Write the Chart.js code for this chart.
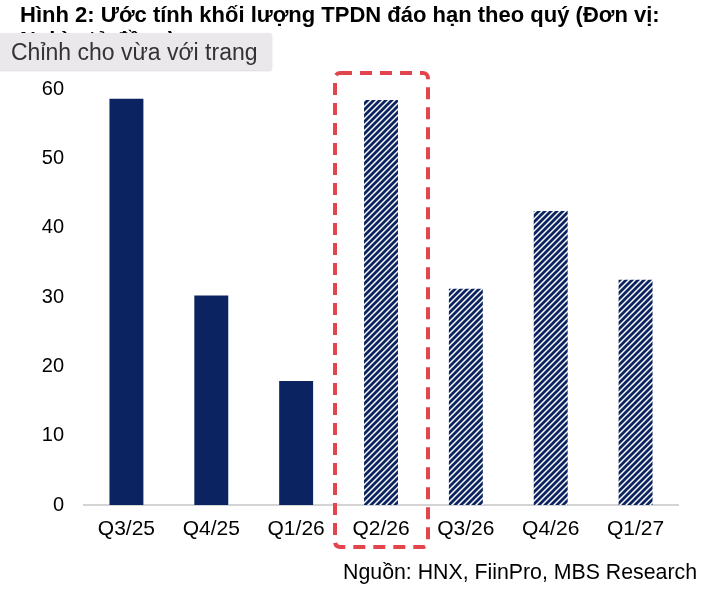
<!DOCTYPE html>
<html>
<head>
<meta charset="utf-8">
<script src="https://cdn.jsdelivr.net/npm/chart.js@4.4.0/dist/chart.umd.min.js"></script>
<style>
    body { margin: 0; background: #fff; }
    #wrap { position: relative; width: 708px; height: 596px; overflow: hidden; }
    #chart { position: absolute; left: 0; top: 0; }
    .title {
        position: absolute; left: 20px; top: 2px;
        font-family: "Liberation Sans", Arial, sans-serif;
        font-weight: bold; font-size: 22px; line-height: 25px; color: #000;
        white-space: nowrap;
    }
    .overlay {
        position: absolute; left: 0; top: 33px; width: 272px; height: 37px;
        background: #ebe8eb; box-shadow: 0 1px 2px rgba(0,0,0,0.15);
        border-radius: 0 3px 3px 0;
        font-family: "Liberation Sans", Arial, sans-serif; font-size: 23px; color: #333;
        line-height: 38px; padding-left: 11px; box-sizing: border-box;
    }
    .source {
        position: absolute; right: 11px; top: 560px;
        font-family: "Liberation Sans", Arial, sans-serif; font-size: 21.3px; color: #000;
        white-space: nowrap;
    }
</style>
</head>
<body>
<div id="wrap">
    <canvas id="chart" width="708" height="596"></canvas>
    <div class="title">Hình 2: Ước tính khối lượng TPDN đáo hạn theo quý (Đơn vị:<br>Nghìn tỷ đồng)</div>
    <div class="overlay">Chỉnh cho vừa với trang</div>
    <div class="source">Nguồn: HNX, FiinPro, MBS Research</div>
</div>
<script>
    // Data
    const quarters = ['Q3/25', 'Q4/25', 'Q1/26', 'Q2/26', 'Q3/26', 'Q4/26', 'Q1/27'];
    const maturing = [58.6, 30.2, 17.9, 58.4, 31.2, 42.4, 32.5];
    const isForecast = [false, false, false, true, true, true, true];
    const yTicks = [0, 10, 20, 30, 40, 50, 60];
    const highlightIndex = 3;

    const navy = '#0b2461';

    // Diagonal stripe pattern for estimated quarters
    function makeStripes() {
        const c = document.createElement('canvas');
        c.width = 6; c.height = 6;
        const g = c.getContext('2d');
        g.fillStyle = '#fff';
        g.fillRect(0, 0, 6, 6);
        g.strokeStyle = navy;
        g.lineWidth = 2.8;
        g.beginPath();
        g.moveTo(-3, 3); g.lineTo(3, -3);
        g.moveTo(0, 6); g.lineTo(6, 0);
        g.moveTo(3, 9); g.lineTo(9, 3);
        g.stroke();
        return g.createPattern(c, 'repeat');
    }

    const stripes = makeStripes();

    // Red dashed box around the highlighted quarter
    const highlightBox = {
        id: 'highlightBox',
        afterDatasetsDraw(chart) {
            const ctx = chart.ctx;
            const x = chart.scales.x;
            const y = chart.scales.y;
            const cx = x.getPixelForValue(highlightIndex);
            const left = cx - 46, right = cx + 47;
            const top = y.getPixelForValue(60) - 16;
            const bottom = y.getPixelForValue(0) + 42;
            ctx.save();
            ctx.strokeStyle = '#e3454d';
            ctx.lineWidth = 4;
            ctx.setLineDash([12, 8]);
            ctx.beginPath();
            ctx.roundRect(left, top, right - left, bottom - top, 5);
            ctx.stroke();
            ctx.restore();
        }
    };

    new Chart(document.getElementById('chart'), {
        type: 'bar',
        data: {
            labels: quarters,
            datasets: [{
                data: maturing,
                backgroundColor: isForecast.map(f => f ? stripes : navy),
                borderWidth: 0,
                barPercentage: 0.4,
                categoryPercentage: 1
            }]
        },
        options: {
            responsive: false,
            animation: false,
            devicePixelRatio: 1,
            layout: { padding: { top: 89, right: 30, bottom: 41, left: 0 } },
            plugins: {
                legend: { display: false },
                tooltip: { enabled: false }
            },
            scales: {
                x: {
                    grid: { display: false, drawTicks: false },
                    border: { display: true, color: '#d4d4d4', width: 2 },
                    ticks: {
                        color: '#000', padding: 12,
                        font: { family: 'Liberation Sans, Arial', size: 21 }
                    },
                    afterFit: s => { s.height = 50; }
                },
                y: {
                    min: 0, max: 60,
                    grid: { display: false, drawTicks: false },
                    border: { display: false },
                    afterBuildTicks: s => { s.ticks = yTicks.map(v => ({ value: v })); },
                    ticks: {
                        color: '#000', padding: 20,
                        font: { family: 'Liberation Sans, Arial', size: 20 }
                    },
                    afterFit: s => { s.width = 84; }
                }
            }
        },
        plugins: [highlightBox]
    });
</script>
</body>
</html>
